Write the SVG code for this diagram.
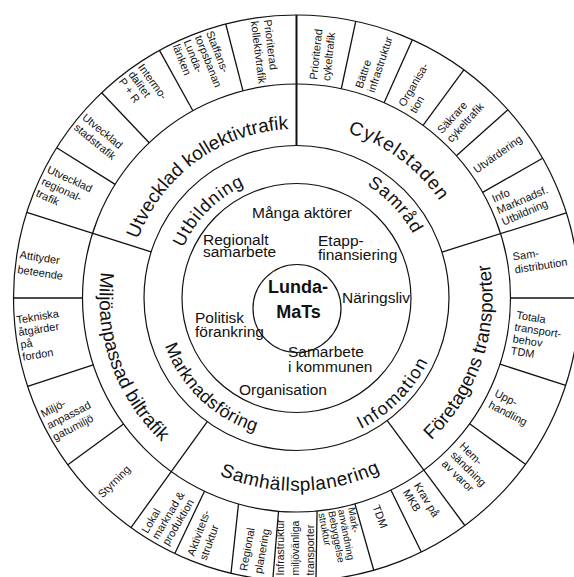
<svg xmlns="http://www.w3.org/2000/svg" width="574" height="577" viewBox="0 0 574 577">
<style>
.ln{fill:none;stroke:#111;stroke-width:1.2}
.dv{fill:none;stroke:#111;stroke-width:1.3}
.t{font-family:"Liberation Sans",Arial,sans-serif;fill:#111}
.r2{font-size:19px}
.r3{font-size:18px}
.bx{font-size:11px}
.in{font-size:15.5px}
.hub{font-size:18px;font-weight:bold}
</style>
<defs>
<path id="pA" d="M151.92,385.55 A169,169 0 0 1 423.66,186.68"/>
<path id="pB" d="M167.50,182.73 A173,173 0 0 1 443.61,389.03"/>
<path id="pC" d="M251.58,488.78 A196,196 0 0 0 373.87,117.92"/>
<path id="pD" d="M104.62,318.63 A193,193 0 0 0 489.08,310.66"/>
<path id="pE" d="M214.34,118.95 A197,197 0 0 0 346.32,488.60"/>
<path id="pF" d="M201.93,378.20 A124,124 0 0 1 375.71,202.59"/>
<path id="pG" d="M214.25,193.48 A133,133 0 0 1 395.65,386.65"/>
<path id="pH" d="M203.44,410.49 A146,146 0 0 0 407.68,203.37"/>
<path id="pI" d="M186.93,210.85 A140,140 0 0 0 389.27,402.85"/>
</defs>
<rect width="574" height="577" fill="#fff"/>
<g id="rings">
<circle class="ln" cx="296.5" cy="298" r="283"/>
<circle class="ln" cx="296.5" cy="298" r="214"/>
<circle class="ln" cx="296.5" cy="298" r="152.5"/>
<circle class="ln" cx="296.5" cy="298" r="114.5"/>
</g>
<g id="dividers" class="dv">
<path d="M296.5,15 L296.5,145.5" stroke-width="2"/>
<path d="M566.40,212.90 L441.94,252.14"/>
<path d="M464.83,525.49 L387.21,420.59"/>
<path d="M130.96,527.53 L207.29,421.69"/>
<path d="M26.75,212.43 L151.14,251.89"/>
<path d="M355.74,21.27 L341.30,88.74"/>
<path d="M412.35,39.80 L384.11,102.75"/>
<path d="M463.84,69.78 L423.04,125.42"/>
<path d="M507.91,109.86 L456.36,155.73"/>
<path d="M542.61,158.29 L482.60,192.36"/>
<path d="M580,298 L510.5,298"/>
<path d="M565.65,385.45 L500.03,364.13"/>
<path d="M525.45,464.34 L469.63,423.79"/>
<path d="M421.30,552.00 L390.87,490.07"/>
<path d="M373.74,570.25 L354.91,503.87"/>
<path d="M316,580 L317.05,511.01"/>
<path d="M272.77,580 L278.55,511.25"/>
<path d="M231,573.3 L238.5,504"/>
<path d="M174.81,553.50 L204.48,491.21"/>
<path d="M67.84,464.74 L123.59,424.09"/>
<path d="M27.66,386.39 L93.21,364.84"/>
<path d="M13.5,298 L82.5,298"/>
<path d="M56.68,147.74 L115.15,184.37"/>
<path d="M101.70,92.72 L149.19,142.77"/>
<path d="M159.47,50.39 L192.88,110.76"/>
<path d="M225.74,23.99 L242.99,90.80"/>
</g>
<g id="hub">
<circle class="ln" cx="297" cy="308.5" r="44"/>
<text class="t hub" text-anchor="middle"><tspan x="298" y="293">Lunda-</tspan><tspan x="298.5" y="318">MaTs</tspan></text>
</g>
<g id="inner-items" class="t in">
<g id="i-manga"><text x="252" y="218">Många aktörer</text></g>
<g id="i-regionalt"><text><tspan x="203" y="245">Regionalt</tspan><tspan x="203" y="257">samarbete</tspan></text></g>
<g id="i-etapp"><text><tspan x="318" y="246">Etapp-</tspan><tspan x="318" y="260">finansiering</tspan></text></g>
<g id="i-naringsliv"><text x="342" y="303">Näringsliv</text></g>
<g id="i-politisk"><text><tspan x="195" y="323">Politisk</tspan><tspan x="195" y="337">förankring</tspan></text></g>
<g id="i-samarbete"><text><tspan x="288" y="357">Samarbete</tspan><tspan x="288" y="372">i kommunen</tspan></text></g>
<g id="i-organisation"><text x="239" y="395">Organisation</text></g>
</g>
<g id="ring3" class="t r3">
<g id="s-utbildning"><text letter-spacing="1"><textPath href="#pF" startOffset="50%" text-anchor="middle">Utbildning</textPath></text></g>
<g id="s-samrad"><text letter-spacing="1"><textPath href="#pG" startOffset="50%" text-anchor="middle">Samråd</textPath></text></g>
<g id="s-infomation"><text letter-spacing="1.4"><textPath href="#pH" startOffset="50%" text-anchor="middle">Infomation</textPath></text></g>
<g id="s-marknadsforing"><text letter-spacing="0.4"><textPath href="#pI" startOffset="50%" text-anchor="middle">Marknadsföring</textPath></text></g>
</g>
<g id="ring2" class="t r2">
<g id="k-kollektiv"><text><textPath href="#pA" startOffset="50%" text-anchor="middle">Utvecklad kollektivtrafik</textPath></text></g>
<g id="k-cykel"><text letter-spacing="1.2"><textPath href="#pB" startOffset="50%" text-anchor="middle">Cykelstaden</textPath></text></g>
<g id="k-foretag"><text><textPath href="#pC" startOffset="50%" text-anchor="middle">Företagens transporter</textPath></text></g>
<g id="k-samhall"><text letter-spacing="0.6"><textPath href="#pD" startOffset="50%" text-anchor="middle">Samhällsplanering</textPath></text></g>
<g id="k-bil"><text><textPath href="#pE" startOffset="50%" text-anchor="middle">Miljöanpassad biltrafik</textPath></text></g>
</g>
<g id="boxes" class="t bx">
<g id="b1"><text transform="translate(319.54,80.22) rotate(-83.96)"><tspan x="0" y="-2.5">Prioriterad</tspan><tspan x="0" y="10.5">cykeltrafik</tspan></text></g>
<g id="b2"><text transform="translate(364.63,89.87) rotate(-71.875)"><tspan x="0" y="-2.5">Bättre</tspan><tspan x="0" y="10.5">infrastruktur</tspan></text></g>
<g id="b3"><text transform="translate(406.70,108.74) rotate(-59.79)"><tspan x="0" y="-2.5">Organisa-</tspan><tspan x="0" y="10.5">tion</tspan></text></g>
<g id="b4"><text transform="translate(443.85,135.98) rotate(-47.71)"><tspan x="0" y="-2.5">Säkrare</tspan><tspan x="0" y="10.5">cykeltrafik</tspan></text></g>
<g id="b5"><text transform="translate(474.51,170.44) rotate(-35.625)"><tspan x="0" y="4">Utvärdering</tspan></text></g>
<g id="b6"><text transform="translate(497.27,210.53) rotate(-23.54)"><tspan x="0" y="-8.5">Info</tspan><tspan x="0" y="4">Marknadsf.</tspan><tspan x="0" y="16.5">Utbildning</tspan></text></g>
<g id="b7"><text transform="translate(513.94,264.53) rotate(-8.75)"><tspan x="0" y="-4">Sam-</tspan><tspan x="0" y="9">distribution</tspan></text></g>
<g id="b8"><text transform="translate(513.79,332.41) rotate(9)"><tspan x="0" y="-14">Totala</tspan><tspan x="0" y="-2">transport-</tspan><tspan x="0" y="10">behov</tspan><tspan x="0" y="22">TDM</tspan></text></g>
<g id="b9"><text transform="translate(492.52,397.88) rotate(27)"><tspan x="0" y="-2.5">Upp-</tspan><tspan x="0" y="10.5">handling</tspan></text></g>
<g id="b10"><text transform="translate(452.74,452.88) rotate(44.75)"><tspan x="0" y="-8.5">Hem-</tspan><tspan x="0" y="4">sändning</tspan><tspan x="0" y="16.5">av varor</tspan></text></g>
<g id="b11"><text transform="translate(411.42,486.77) rotate(58.67)"><tspan x="0" y="-2.5">Krav på</tspan><tspan x="0" y="10.5">MKB</tspan></text></g>
<g id="b12"><text transform="translate(376.06,505.26) rotate(69)"><tspan x="0" y="4">TDM</tspan></text></g>
<g id="b13"><text transform="translate(336.6,510.2) rotate(79.3)" font-size="10"><tspan x="0" y="-11.5">Mark-</tspan><tspan x="0" y="-1.5">användning</tspan><tspan x="0" y="8.5">Bebyggelse</tspan><tspan x="0" y="18.5">struktur</tspan></text></g>
<g id="b14"><text transform="translate(299,575.5) rotate(-90)" font-size="10.5"><tspan x="0" y="-15">Infrastruktur</tspan><tspan x="0" y="0">miljövänliga</tspan><tspan x="0" y="15">transporter</tspan></text></g>
<g id="b15"><text transform="translate(250.4,572) rotate(-79.8)"><tspan x="0" y="-3.5">Regional</tspan><tspan x="0" y="11.5">planering</tspan></text></g>
<g id="b16"><text transform="translate(196.4,557.5) rotate(-70)"><tspan x="0" y="-2.5">Aktivitets-</tspan><tspan x="0" y="10.5">struktur</tspan></text></g>
<g id="b17"><text transform="translate(154.48,538.15) rotate(-59.4)"><tspan x="0" y="-8">Lokal</tspan><tspan x="0" y="4">marknad &amp;</tspan><tspan x="0" y="16">produktion</tspan></text></g>
<g id="b18"><text transform="translate(99.71,495.77) rotate(-45.15)"><tspan x="0" y="4">Styrning</tspan></text></g>
<g id="b19"><text transform="translate(47.36,425.76) rotate(-27.15)"><tspan x="0" y="-9">Miljö-</tspan><tspan x="0" y="4">anpassad</tspan><tspan x="0" y="17">gatumiljö</tspan></text></g>
<g id="b20"><text transform="translate(20.03,342.28) rotate(-9.1)"><tspan x="0" y="-18.75">Tekniska</tspan><tspan x="0" y="-6.25">åtgärder</tspan><tspan x="0" y="6.25">på</tspan><tspan x="0" y="18.75">fordon</tspan></text></g>
<g id="b21"><text transform="translate(19.80,255.16) rotate(8.8)"><tspan x="0" y="3">Attityder</tspan><tspan x="0" y="18">beteende</tspan></text></g>
<g id="b22"><text transform="translate(42.41,180.38) rotate(24.84)"><tspan x="0" y="-9">Utvecklad</tspan><tspan x="0" y="4">regional-</tspan><tspan x="0" y="17">trafik</tspan></text></g>
<g id="b23"><text transform="translate(79.82,120.65) rotate(39.32)"><tspan x="0" y="-2.5">Utvecklad</tspan><tspan x="0" y="10.5">stadstrafik</tspan></text></g>
<g id="b24"><text transform="translate(131.13,72.05) rotate(53.8)"><tspan x="0" y="-8">Intermo-</tspan><tspan x="0" y="4">dalitet</tspan><tspan x="0" y="16">P + R</tspan></text></g>
<g id="b25"><text transform="translate(192.87,37.88) rotate(68.28)"><tspan x="0" y="-14">Staffans-</tspan><tspan x="0" y="-2">torpsbanan</tspan><tspan x="0" y="10">Lunda-</tspan><tspan x="0" y="22">länken</tspan></text></g>
<g id="b26"><text transform="translate(261.21,20.23) rotate(82.76)"><tspan x="0" y="-2.5">Prioriterad</tspan><tspan x="0" y="10.5">kollektivtrafik</tspan></text></g>
</g>
</svg>
